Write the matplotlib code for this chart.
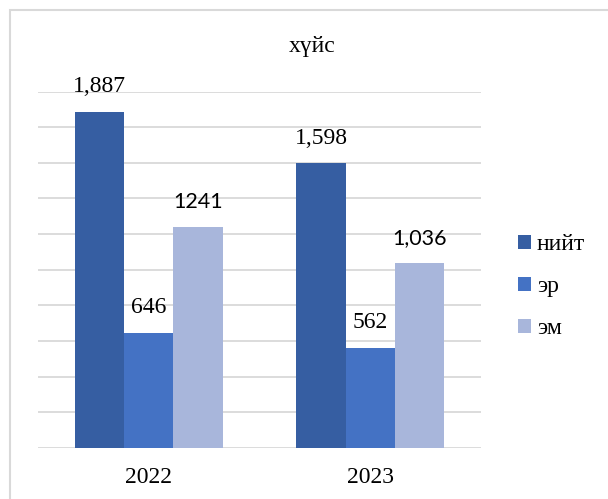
import matplotlib.pyplot as plt
import matplotlib.patches as patches
import numpy as np

years = ['2022', '2023']
series = ['нийт', 'эр', 'эм']
values = {
    'нийт': [1887, 1598],
    'эр': [646, 562],
    'эм': [1241, 1036],
}
labels = {
    'нийт': ['1,887', '1,598'],
    'эр': ['646', '562'],
    'эм': ['1241', '1,036'],
}
colors = ['#365EA2', '#4472C4', '#A8B6DB']
# the эм labels are drawn in a sans font in the original
label_fonts = {'нийт': 'Liberation Serif', 'эр': 'Liberation Serif', 'эм': 'Lato'}

plt.rcParams['font.family'] = ['Liberation Serif', 'DejaVu Serif']

fig = plt.figure(figsize=(6.08, 4.99), dpi=100)
ax = fig.add_axes([0.0625, 0.1022, 0.7286, 0.7144])

# light grey frame round the chart
fig.patches.append(patches.Rectangle((10 / 608, -0.1), 1.2, 1 - 10 / 499 + 0.1,
                                     transform=fig.transFigure, fill=False,
                                     edgecolor='#d9d9d9', linewidth=1.5))

x = np.arange(len(years))
width = 0.222
for i, name in enumerate(series):
    pos = x + (i - 1) * width
    ax.bar(pos, values[name], width, color=colors[i], label=name, zorder=2)
    for px, v, txt in zip(pos, values[name], labels[name]):
        fs = 15.5 if label_fonts[name] == 'Lato' else 17
        ax.annotate(txt, (px, v), xytext=(0, 18), textcoords='offset points',
                    ha='center', va='center', fontsize=fs,
                    family=label_fonts[name], zorder=3)

ax.set_xlim(-0.5, 1.5)
ax.set_ylim(0, 2000)
ax.set_yticks(np.arange(0, 2001, 200))
ax.set_yticklabels([])
ax.grid(axis='y', color='#d9d9d9', linewidth=1.3, zorder=0)
ax.set_axisbelow(True)
ax.set_xticks(x)
ax.set_xticklabels(years, fontsize=17)
ax.tick_params(axis='both', length=0)
ax.tick_params(axis='x', pad=14)
for s in ax.spines.values():
    s.set_visible(False)

fig.text(0.513, 0.906, 'хүйс', ha='center', va='center', fontsize=17)

ax.legend(loc='upper left', bbox_to_anchor=(518 / 608, 1 - 234 / 499),
          bbox_transform=fig.transFigure, frameon=False, fontsize=17,
          handlelength=0.55, handleheight=0.55, handletextpad=0.25,
          labelspacing=0.9, borderpad=0, borderaxespad=0)

fig.savefig('out.png', dpi=100)
